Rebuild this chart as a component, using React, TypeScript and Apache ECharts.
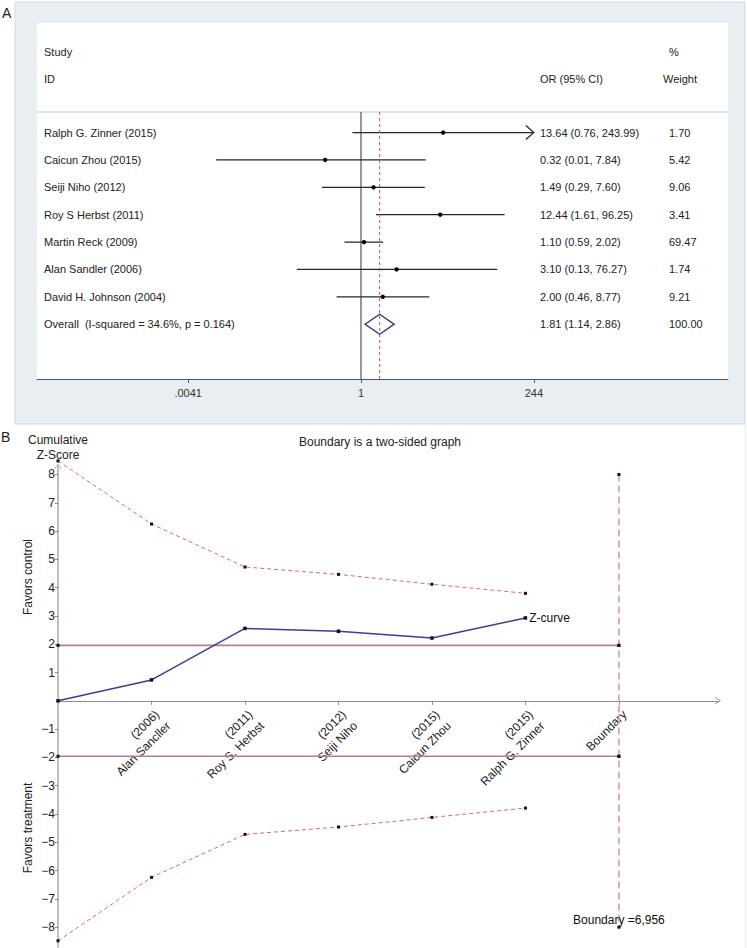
import React, { useEffect, useRef } from 'react';
import * as echarts from 'echarts';

// ---------- Panel A : forest plot ----------
const studies = [
  'Ralph G. Zinner (2015)',
  'Caicun Zhou (2015)',
  'Seiji Niho (2012)',
  'Roy S Herbst (2011)',
  'Martin Reck (2009)',
  'Alan Sandler (2006)',
  'David H. Johnson (2004)',
];
const orValues = [13.64, 0.32, 1.49, 12.44, 1.1, 3.1, 2.0];
const ciLower = [0.76, 0.01, 0.29, 1.61, 0.59, 0.13, 0.46];
const ciUpper = [243.99, 7.84, 7.6, 96.25, 2.02, 76.27, 8.77];
const weights = ['1.70', '5.42', '9.06', '3.41', '69.47', '1.74', '9.21'];
const overallLabel = 'Overall  (I-squared = 34.6%, p = 0.164)';
const overallOR = 1.81;
const overallLower = 1.14;
const overallUpper = 2.86;
const overallWeight = '100.00';
const forestTicks = [0.0041, 1, 244];
const forestTickLabels = ['.0041', '1', '244'];

// ---------- Panel B : trial sequential analysis ----------
const trialLabels = [
  '(2006)\nAlan Sancller',
  '(2011)\nRoy S. Herbst',
  '(2012)\nSeiji Niho',
  '(2015)\nCaicun Zhou',
  '(2015)\nRalph G. Zinner',
  'Boundary',
];
const zCurve = [0, 0.74, 2.56, 2.46, 2.22, 2.93];
const upperBoundary = [8.48, 6.25, 4.73, 4.47, 4.12, 3.8];
const lowerBoundary = [-8.48, -6.24, -4.72, -4.46, -4.12, -3.79];
const sigUpper = 1.96;
const sigLower = -1.96;
const boundaryPos = 6;
const boundaryLine = [8.0, 1.96, -1.96, -8.0];
const boundaryText = 'Boundary =6,956';
const yTicks = [-8, -7, -6, -5, -4, -3, -2, -1, 1, 2, 3, 4, 5, 6, 7, 8];

const FONT = '"Liberation Sans", Arial, Helvetica, sans-serif';
const font = (s: number) => `${s}px ${FONT}`;
const ARROW = 'path://M0,8 L5,0 L10,8 L8.7,8 L5,2.1 L1.3,8 Z';

function txt(text: string, x: number, y: number, size: number, align = 'left', extra: any = {}) {
  return {
    type: 'text',
    x,
    y,
    ...extra,
    style: {
      text,
      fill: '#222',
      font: font(size),
      textAlign: align,
      textVerticalAlign: 'middle',
      align,
      verticalAlign: 'middle',
    },
  };
}

function buildOption() {
  const L = Math.log10;
  const tickLogs = forestTicks.map(L);
  const fmtOR = (o: number, l: number, u: number) => `${o.toFixed(2)} (${l.toFixed(2)}, ${u.toFixed(2)})`;
  const names = [...studies, overallLabel];
  const orTexts = [
    ...orValues.map((o, i) => fmtOR(o, ciLower[i], ciUpper[i])),
    fmtOR(overallOR, overallLower, overallUpper),
  ];
  const wTexts = [...weights, overallWeight];
  const headerY = -0.75;
  const xMinA = -4.475;
  const xMaxA = 5.069;

  const ciData = orValues.map((o, i) => [L(ciLower[i]), L(o), L(ciUpper[i]), i]);
  const textData = names.map((_, i) => [0, i]);
  const xLabelData = trialLabels.map((_, i) => [i + 1, 0]);

  return {
    animation: false,
    textStyle: { fontFamily: FONT },
    grid: [
      { left: 37, top: 23, width: 691, height: 356, containLabel: false, outerBoundsMode: 'none' },
      { left: 58, top: 466, width: 660, height: 481, containLabel: false, outerBoundsMode: 'none' },
    ],
    xAxis: [
      {
        type: 'value',
        gridIndex: 0,
        min: xMinA,
        max: xMaxA,
        splitLine: { show: false },
        axisLine: { onZero: false, lineStyle: { color: '#555', width: 1 } },
        axisTick: { customValues: tickLogs, length: 4, lineStyle: { color: '#555' } },
        axisLabel: {
          customValues: tickLogs,
          margin: 8,
          fontSize: 11,
          color: '#333',
          formatter: (v: number) => {
            const i = tickLogs.findIndex((t) => Math.abs(t - v) < 1e-6);
            return i >= 0 ? forestTickLabels[i] : '';
          },
        },
      },
      {
        type: 'value',
        gridIndex: 1,
        min: 0,
        max: 7.06,
        splitLine: { show: false },
        axisLine: {
          onZero: true,
          symbol: ['none', ARROW],
          symbolSize: [8, 6],
          lineStyle: { color: '#8c8c8c', width: 1.2 },
        },
        axisTick: { customValues: [1, 2, 3, 4, 5, 6], length: 4, lineStyle: { color: '#8c8c8c' } },
        axisLabel: { show: false },
      },
    ],
    yAxis: [
      { type: 'value', gridIndex: 0, min: -4, max: 9, inverse: true, show: false },
      {
        type: 'value',
        gridIndex: 1,
        min: -8.7,
        max: 8.3,
        splitLine: { show: false },
        axisLine: {
          onZero: true,
          symbol: ['none', ARROW],
          symbolSize: [8, 6],
          lineStyle: { color: '#b0b0b0', width: 1.6 },
        },
        axisTick: { customValues: yTicks, length: 3, lineStyle: { color: '#888' } },
        axisLabel: {
          customValues: yTicks,
          margin: 3,
          fontSize: 12,
          color: '#222',
          formatter: (v: number) => (v < 0 ? '\u2212' + Math.abs(v) : String(v)),
        },
        name: 'Cumulative\nZ-Score',
        nameLocation: 'end',
        nameGap: 4,
        nameTextStyle: { fontSize: 12, lineHeight: 15, color: '#222', align: 'center' },
      },
    ],
    graphic: [
      { type: 'rect', z: -10, silent: true, shape: { x: 15, y: 2, width: 730, height: 422 }, style: { fill: '#e8eef1', stroke: '#d2dadd', lineWidth: 1 } },
      { type: 'rect', z: -9, silent: true, shape: { x: 37, y: 23, width: 691, height: 356 }, style: { fill: '#ffffff' } },
      { type: 'line', z: -9, silent: true, shape: { x1: 745.5, y1: 424, x2: 745.5, y2: 948 }, style: { stroke: '#ececec', lineWidth: 1 } },
      txt('A', 2, 13, 14),
      txt('B', 1, 437, 14),
      txt('Study', 44, 52, 11),
      txt('ID', 44, 79, 11),
      txt('OR (95% CI)', 540, 79, 11),
      txt('%', 669, 52, 11),
      txt('Weight', 663, 79, 11),
      txt('Boundary is a two-sided graph', 380, 442, 12, 'center'),
      txt('Favors control', 28, 577, 12, 'center', { rotation: Math.PI / 2 }),
      txt('Favors treatment', 28, 828, 12, 'center', { rotation: Math.PI / 2 }),
    ],
    series: [
      // ---- Panel A ----
      {
        type: 'line',
        xAxisIndex: 0,
        yAxisIndex: 0,
        data: [[xMinA, headerY], [xMaxA, headerY]],
        symbol: 'none',
        lineStyle: { color: '#c9c9c9', width: 1 },
        silent: true,
      },
      {
        type: 'line',
        xAxisIndex: 0,
        yAxisIndex: 0,
        data: [[0, headerY], [0, 9]],
        symbol: 'none',
        lineStyle: { color: '#333', width: 1 },
        silent: true,
      },
      {
        type: 'line',
        xAxisIndex: 0,
        yAxisIndex: 0,
        data: [[L(overallOR), headerY], [L(overallOR), 9]],
        symbol: 'none',
        lineStyle: { color: '#b9535f', width: 1, type: [3, 3] },
        silent: true,
      },
      {
        type: 'custom',
        xAxisIndex: 0,
        yAxisIndex: 0,
        data: ciData,
        encode: { x: [0, 1, 2], y: 3 },
        renderItem: (_p: any, api: any) => {
          const y = api.value(3);
          const a = api.coord([api.value(0), y]);
          const b = api.coord([api.value(1), y]);
          const c = api.coord([api.value(2), y]);
          const children: any[] = [
            { type: 'line', shape: { x1: a[0], y1: a[1], x2: c[0], y2: c[1] }, style: { stroke: '#262626', lineWidth: 1.2 } },
            { type: 'circle', shape: { cx: b[0], cy: b[1], r: 2.2 }, style: { fill: '#000' } },
          ];
          if (api.value(2) >= L(forestTicks[2]) - 0.001) {
            children.push({
              type: 'polyline',
              shape: { points: [[c[0] - 8, c[1] - 7], [c[0], c[1]], [c[0] - 8, c[1] + 7]] },
              style: { stroke: '#262626', lineWidth: 1.2, fill: 'none' },
            });
          }
          return { type: 'group', children };
        },
      },
      {
        type: 'custom',
        xAxisIndex: 0,
        yAxisIndex: 0,
        data: [[L(overallLower), L(overallOR), L(overallUpper), studies.length]],
        encode: { x: [0, 1, 2], y: 3 },
        renderItem: (_p: any, api: any) => {
          const y = api.value(3);
          const a = api.coord([api.value(0), y]);
          const b = api.coord([api.value(1), y]);
          const c = api.coord([api.value(2), y]);
          return {
            type: 'polygon',
            shape: { points: [[a[0], a[1]], [b[0], b[1] - 10], [c[0], c[1]], [b[0], b[1] + 10]] },
            style: { stroke: '#2d3170', lineWidth: 1.4, fill: 'none' },
          };
        },
      },
      {
        type: 'custom',
        xAxisIndex: 0,
        yAxisIndex: 0,
        data: textData,
        encode: { y: 1 },
        renderItem: (params: any, api: any) => {
          const i = api.value(1);
          const y = api.coord([0, i])[1];
          const x0 = params.coordSys.x;
          const mk = (t: string, x: number) => ({
            type: 'text',
            x,
            y,
            style: { text: t, fill: '#222', font: font(11), textAlign: 'left', textVerticalAlign: 'middle', align: 'left', verticalAlign: 'middle' },
          });
          return { type: 'group', children: [mk(names[i], x0 + 7), mk(orTexts[i], x0 + 503), mk(wTexts[i], x0 + 632)] };
        },
      },
      // ---- Panel B ----
      {
        type: 'custom',
        xAxisIndex: 1,
        yAxisIndex: 1,
        data: xLabelData,
        encode: { x: 0, y: 1 },
        clip: false,
        renderItem: (_p: any, api: any) => {
          const idx = api.value(0);
          const p = api.coord([idx, api.value(1)]);
          return {
            type: 'text',
            x: p[0],
            y: p[1] + 6,
            rotation: Math.PI / 4,
            style: {
              text: trialLabels[idx - 1],
              fill: '#222',
              font: font(12),
              lineHeight: 16,
              textAlign: 'right',
              textVerticalAlign: 'top',
              align: 'right',
              verticalAlign: 'top',
            },
          };
        },
      },
      {
        type: 'line',
        xAxisIndex: 1,
        yAxisIndex: 1,
        data: [[0, sigUpper], [boundaryPos, sigUpper]],
        symbol: 'rect',
        symbolSize: 3,
        itemStyle: { color: '#111' },
        lineStyle: { color: '#b67d8a', width: 1.6 },
        clip: false,
      },
      {
        type: 'line',
        xAxisIndex: 1,
        yAxisIndex: 1,
        data: [[0, sigLower], [boundaryPos, sigLower]],
        symbol: 'rect',
        symbolSize: 3,
        itemStyle: { color: '#111' },
        lineStyle: { color: '#b67d8a', width: 1.6 },
        clip: false,
      },
      {
        type: 'line',
        xAxisIndex: 1,
        yAxisIndex: 1,
        data: boundaryLine.map((v, i) =>
          i === boundaryLine.length - 1
            ? {
                value: [boundaryPos, v],
                label: { show: true, position: 'top', distance: 0, formatter: boundaryText, fontSize: 12, color: '#111' },
              }
            : [boundaryPos, v]
        ),
        symbol: 'rect',
        symbolSize: 3,
        itemStyle: { color: '#111' },
        lineStyle: { color: '#dea4ab', width: 1.8, type: [7, 4] },
        clip: false,
      },
      {
        type: 'line',
        xAxisIndex: 1,
        yAxisIndex: 1,
        data: upperBoundary.map((v, i) => [i, v]),
        symbol: 'rect',
        symbolSize: 3,
        itemStyle: { color: '#111' },
        lineStyle: { color: '#d66a78', width: 1, type: [4, 3] },
        clip: false,
      },
      {
        type: 'line',
        xAxisIndex: 1,
        yAxisIndex: 1,
        data: lowerBoundary.map((v, i) => [i, v]),
        symbol: 'rect',
        symbolSize: 3,
        itemStyle: { color: '#111' },
        lineStyle: { color: '#d66a78', width: 1, type: [4, 3] },
        clip: false,
      },
      {
        type: 'line',
        xAxisIndex: 1,
        yAxisIndex: 1,
        data: zCurve.map((v, i) =>
          i === zCurve.length - 1
            ? { value: [i, v], label: { show: true, position: 'right', distance: 2, formatter: 'Z-curve', fontSize: 12, color: '#111' } }
            : [i, v]
        ),
        symbol: 'rect',
        symbolSize: 3.5,
        itemStyle: { color: '#111' },
        lineStyle: { color: '#393e96', width: 1.5 },
        clip: false,
      },
    ],
  };
}

export default function App() {
  const ref = useRef<HTMLDivElement>(null);
  useEffect(() => {
    document.body.style.margin = '0';
    const chart = echarts.init(ref.current as HTMLDivElement, undefined, { renderer: 'svg' });
    chart.setOption(buildOption() as any);
    return () => chart.dispose();
  }, []);
  return <div ref={ref} style={{ width: 747, height: 948, background: '#ffffff' }} />;
}
